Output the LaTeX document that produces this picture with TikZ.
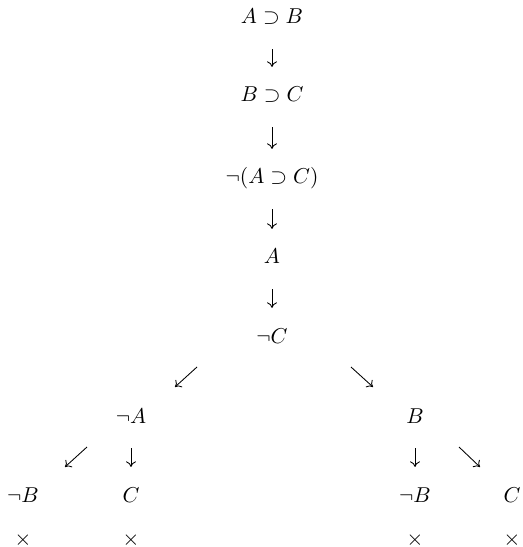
\documentclass[tikz,border=0pt]{standalone}
\usepackage{amsmath, amssymb}
\usetikzlibrary{arrows.meta}

\tikzset{
  formula/.style={anchor=base, inner sep=0pt},
  tree arrow/.style={-{To[length=2.6pt,width=4.6pt]}},
  down arrow/.style={tree arrow, shorten <=11.8pt, shorten >=16.3pt},
}

\begin{document}
\begin{tikzpicture}[x=0.465pt, y=-0.465pt]
    \useasboundingbox (0,0) rectangle (522,547);
    % set up the nodes
    \node[formula] (C1) at (272,24) {$A \supset B$};
    \node[formula] (C2) at (272,102) {$B \supset C$};
    \node[formula] (C3) at (272,184) {$\neg(A \supset C)$};
    \node[formula] (C4) at (272,264) {$A$};
    \node[formula] (C5) at (272,343) {$\neg C$};
    \node[formula] (nC1) at (131,423) {$\neg A$};
    \node[formula] (nC2) at (415,423) {$B$};
    \node[formula] (nnC1) at (23,502) {$\neg B$};
    \node[formula] (nnC2) at (131,502) {$C$};
    \node[formula] (nnC3) at (415,502) {$\neg B$};
    \node[formula] (nnC4) at (512,502) {$C$};
    \node[formula] (x1) at (23,545) {$\times$};
    \node[formula] (x2) at (131,545) {$\times$};
    \node[formula] (x3) at (415,545) {$\times$};
    \node[formula] (x4) at (512,545) {$\times$};
    % free ends of the slanted arrows
    \coordinate (s1) at (197,367);
    \coordinate (e1) at (175,387);
    \coordinate (s2) at (351,367);
    \coordinate (e2) at (373,387);
    \coordinate (s3) at (87,447);
    \coordinate (e3) at (65,467);
    \coordinate (s4) at (459,447);
    \coordinate (e4) at (480,467);
    % draw arrows between them
    \draw[down arrow] (C1.base) -- (C2.base);
    \draw[down arrow] (C2.base) -- (C3.base);
    \draw[down arrow] (C3.base) -- (C4.base);
    \draw[down arrow] (C4.base) -- (C5.base);
    \draw[tree arrow] (s1) -- (e1);
    \draw[tree arrow] (s2) -- (e2);
    \draw[down arrow] (nC1.base) -- (nnC2.base);
    \draw[tree arrow] (s3) -- (e3);
    \draw[down arrow] (nC2.base) -- (nnC3.base);
    \draw[tree arrow] (s4) -- (e4);
\end{tikzpicture}
\end{document}
